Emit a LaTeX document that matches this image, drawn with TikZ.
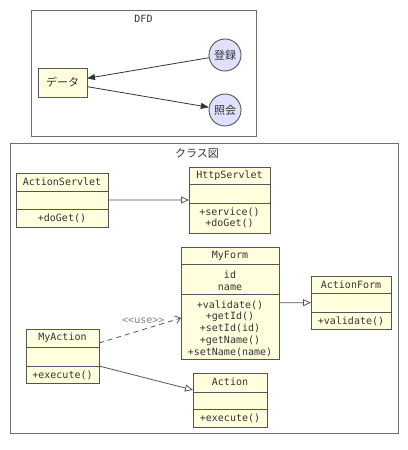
\documentclass[tikz,border=0pt]{standalone}
\usepackage{fontspec}
\setmainfont{DejaVu Sans Mono}[Ligatures=NoCommon]
\setmonofont{DejaVu Sans Mono}
\newfontfamily\jp{Noto Sans CJK JP}
\usetikzlibrary{arrows.meta}
\definecolor{clsfill}{HTML}{FFFFDD}
\definecolor{cirfill}{HTML}{E0E0FF}
\definecolor{edge}{HTML}{555555}
\definecolor{frame}{HTML}{707070}
\definecolor{ink}{HTML}{333333}
\tikzset{
  x=1bp, y=-1bp,
  box/.style={draw=edge, fill=clsfill, line width=0.9bp, inner sep=0pt, outer sep=0pt, anchor=north west},
  cmp/.style={draw=edge, line width=0.9bp},
  frm/.style={draw=frame, line width=0.9bp},
  txt/.style={text=ink, font=\fontsize{10bp}{11bp}\selectfont, inner sep=0pt, align=center},
  jtxt/.style={text=ink, font=\fontsize{11bp}{12bp}\selectfont\jp, inner sep=0pt},
  cir/.style={circle, draw=edge, fill=cirfill, line width=0.9bp, minimum size=32bp, inner sep=0pt},
  flow/.style={draw=black!80, line width=0.8bp, -{Triangle[length=8bp,width=6bp]}},
  gen/.style={draw=edge, line width=0.8bp, -{Triangle[open,fill=white,length=8bp,width=7bp]}},
  dep/.style={draw=edge, line width=0.8bp, dashed, dash pattern=on 5bp off 4bp, -{Straight Barb[length=5bp,width=8bp]}},
}
\begin{document}
\begin{tikzpicture}
\useasboundingbox (0,0) rectangle (407,450);
% ---------- DFD ----------
\draw[frm] (31,10) rectangle (256,136);
\node[txt] (dfdtitle) at (143.5,19) {DFD};
\node[box, minimum width=49bp, minimum height=29bp] (dt) at (38,68) {};
\node[jtxt] at (dt.center) {データ};
\node[cir] (tr) at (225,55) {};
\node[jtxt] at (tr.center) {登録};
\node[cir] (sk) at (225,110) {};
\node[jtxt] at (sk.center) {照会};
\draw[flow] (tr) -- (dt);
\draw[flow] (dt) -- (sk);
% ---------- Class diagram ----------
\draw[frm] (10,143) rectangle (398,433);
\node[jtxt] (clstitle) at (197,153) {クラス図};
% ActionServlet
\node[box, minimum width=92bp, minimum height=54bp] (as) at (16,173) {};
\draw[cmp] (16,191) -- (108,191);
\draw[cmp] (16,209) -- (108,209);
\node[txt] at (62,182) {ActionServlet};
\node[txt] at (62,218) {+doGet()};
% HttpServlet
\node[box, minimum width=81bp, minimum height=66bp] (hs) at (189,167) {};
\draw[cmp] (189,184) -- (270,184);
\draw[cmp] (189,203) -- (270,203);
\node[txt] at (229.5,175.5) {HttpServlet};
\node[txt] at (229.5,218) {+service()\\+doGet()};
% MyForm
\node[box, minimum width=98bp, minimum height=112bp] (mf) at (181,247) {};
\draw[cmp] (181,264) -- (279,264);
\draw[cmp] (181,294) -- (279,294);
\node[txt] at (230,255.5) {MyForm};
\node[txt, font=\fontsize{10bp}{12bp}\selectfont] at (230,280.5) {id\\name};
\node[txt, font=\fontsize{10bp}{11.7bp}\selectfont] at (230,328.5) {+validate()\\+getId()\\+setId(id)\\+getName()\\+setName(name)};
% ActionForm
\node[box, minimum width=80bp, minimum height=53bp] (af) at (311,276) {};
\draw[cmp] (311,293) -- (391,293);
\draw[cmp] (311,312) -- (391,312);
\node[txt] at (351,285) {ActionForm};
\node[txt] at (351,321) {+validate()};
% MyAction
\node[box, minimum width=73bp, minimum height=54bp] (ma) at (26,329) {};
\draw[cmp] (26,347) -- (99,347);
\draw[cmp] (26,366) -- (99,366);
\node[txt] at (62.5,338) {MyAction};
\node[txt] at (62.5,375) {+execute()};
% Action
\node[box, minimum width=74bp, minimum height=54bp] (ac) at (193,373) {};
\draw[cmp] (193,392) -- (267,392);
\draw[cmp] (193,409) -- (267,409);
\node[txt] at (230,382) {Action};
\node[txt] at (230,418) {+execute()};
% connectors
\draw[gen] (as) -- (hs);
\draw[gen] (mf) -- (af);
\draw[gen] ([yshift=-10bp]ma.east) -- ([yshift=10bp]ac.west);
\draw[dep] ([yshift=13bp]ma.east) -- node[pos=0.54, above=5.5bp, txt, text=gray] {{<}{<}use{>}{>}} ([yshift=-15bp]mf.west);
\end{tikzpicture}
\end{document}
